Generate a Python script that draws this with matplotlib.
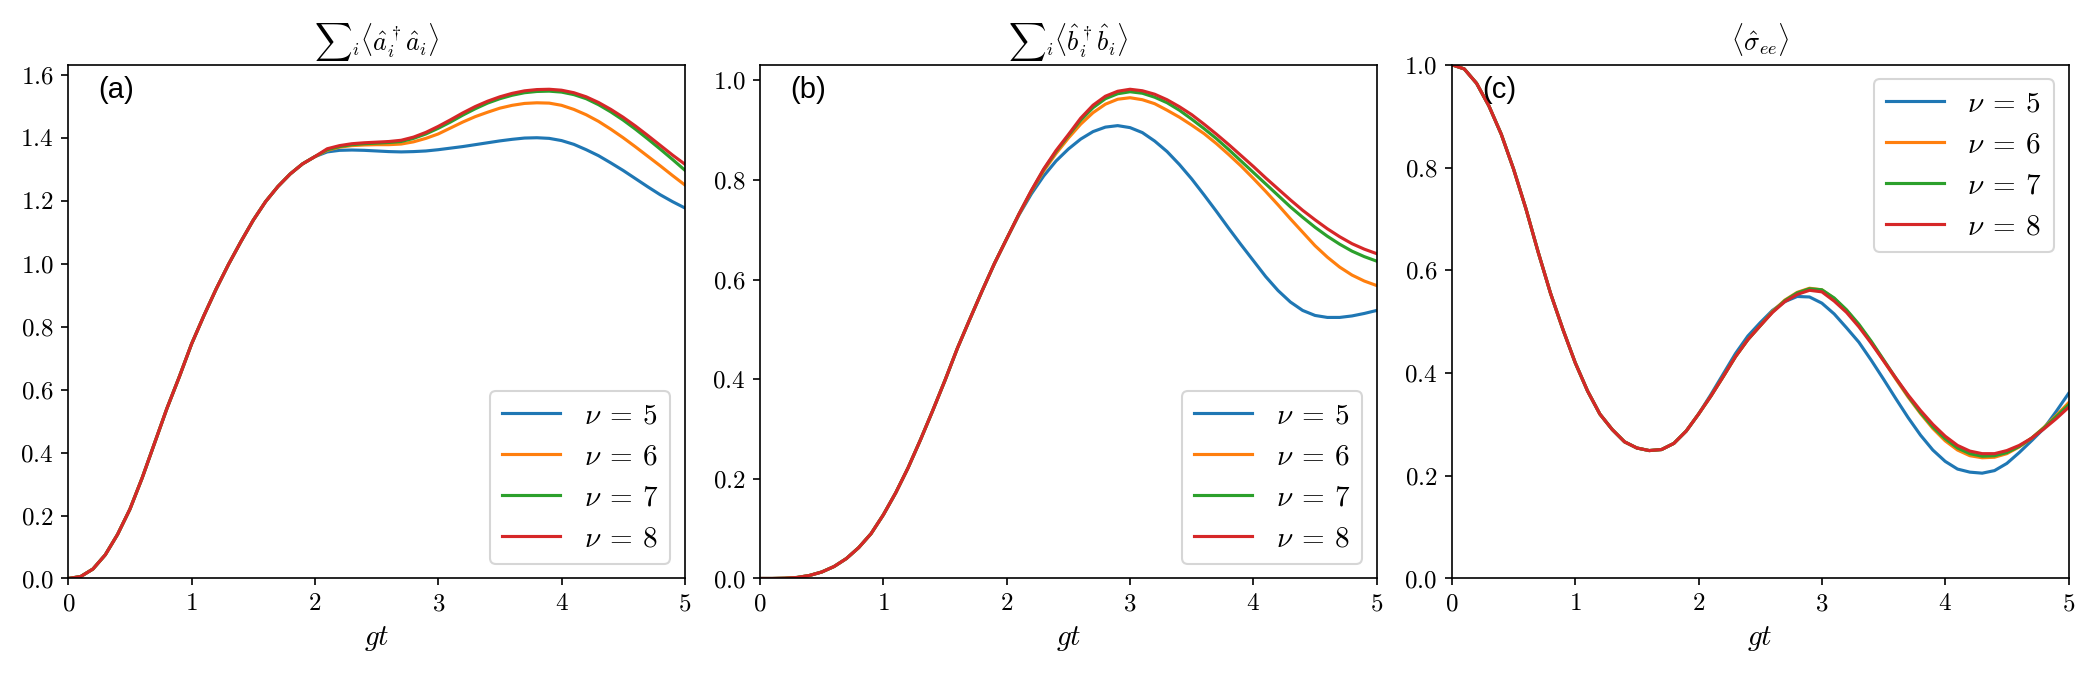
"""Photon / phonon number and excited-state population vs gt"""
import numpy as np
import matplotlib

matplotlib.use("Agg")
import matplotlib.pyplot as plt

plt.rcParams["font.family"] = "serif"
plt.rcParams["font.serif"] = ["cmr10"]
plt.rcParams["mathtext.fontset"] = "cm"
plt.rcParams["axes.formatter.use_mathtext"] = True

# time grid (gt)
gt = [
    0.0, 0.1, 0.2, 0.3, 0.4, 0.5, 0.6, 0.7, 0.8, 0.9,
    1.0, 1.1, 1.2, 1.3, 1.4, 1.5, 1.6, 1.7, 1.8, 1.9,
    2.0, 2.1, 2.2, 2.3, 2.4, 2.5, 2.6, 2.7, 2.8, 2.9,
    3.0, 3.1, 3.2, 3.3, 3.4, 3.5, 3.6, 3.7, 3.8, 3.9,
    4.0, 4.1, 4.2, 4.3, 4.4, 4.5, 4.6, 4.7, 4.8, 4.9,
    5.0,
]
nus = [5, 6, 7, 8]

# (a) sum_i <a_i^dag a_i>: common rise up to gt = 2, then one tail per nu
a_start = [0.0, 0.006, 0.03, 0.075, 0.14, 0.22, 0.32, 0.43, 0.54, 0.64,
           0.745, 0.835, 0.92, 0.998, 1.07, 1.138, 1.197, 1.245, 1.285, 1.317,
           1.340]
a_nu5 = [1.355, 1.360, 1.361, 1.360, 1.358, 1.356, 1.355, 1.356, 1.358, 1.362,
         1.367, 1.372, 1.378, 1.384, 1.390, 1.395, 1.399, 1.400, 1.398, 1.391,
         1.379, 1.362, 1.343, 1.320, 1.296, 1.270, 1.244, 1.219, 1.197, 1.177]
a_nu6 = [1.360, 1.370, 1.375, 1.377, 1.378, 1.378, 1.380, 1.387, 1.398, 1.412,
         1.431, 1.450, 1.467, 1.481, 1.494, 1.503, 1.509, 1.511, 1.510, 1.503,
         1.490, 1.473, 1.452, 1.427, 1.400, 1.371, 1.341, 1.311, 1.280, 1.250]
a_nu7 = [1.362, 1.372, 1.378, 1.381, 1.383, 1.385, 1.388, 1.398, 1.412, 1.430,
         1.450, 1.472, 1.492, 1.510, 1.524, 1.535, 1.543, 1.547, 1.548, 1.545,
         1.537, 1.524, 1.505, 1.482, 1.456, 1.427, 1.396, 1.364, 1.331, 1.297]
a_nu8 = [1.365, 1.375, 1.381, 1.384, 1.386, 1.388, 1.392, 1.402, 1.417, 1.436,
         1.457, 1.479, 1.499, 1.516, 1.530, 1.541, 1.549, 1.553, 1.554, 1.551,
         1.543, 1.530, 1.512, 1.490, 1.465, 1.437, 1.407, 1.376, 1.345, 1.316]

# (b) sum_i <b_i^dag b_i>
b_start = [0.0, 0.0, 0.0005, 0.002, 0.006, 0.013, 0.024, 0.040, 0.062, 0.090,
           0.128, 0.172, 0.222, 0.278, 0.337, 0.398, 0.462, 0.520, 0.577, 0.632,
           0.682]
b_nu5 = [0.730, 0.772, 0.808, 0.838, 0.862, 0.882, 0.897, 0.906, 0.909, 0.905,
         0.895, 0.878, 0.857, 0.831, 0.802, 0.770, 0.737, 0.703, 0.670, 0.638,
         0.606, 0.578, 0.555, 0.538, 0.528, 0.524, 0.524, 0.527, 0.532, 0.538]
b_nu6 = [0.731, 0.777, 0.818, 0.853, 0.884, 0.912, 0.935, 0.952, 0.962, 0.965,
         0.961, 0.953, 0.940, 0.926, 0.910, 0.893, 0.873, 0.851, 0.828, 0.803,
         0.777, 0.750, 0.722, 0.695, 0.668, 0.645, 0.625, 0.609, 0.597, 0.588]
b_nu7 = [0.732, 0.778, 0.821, 0.857, 0.889, 0.920, 0.945, 0.963, 0.973, 0.977,
         0.974, 0.966, 0.955, 0.940, 0.922, 0.903, 0.883, 0.861, 0.838, 0.815,
         0.792, 0.769, 0.746, 0.725, 0.705, 0.687, 0.671, 0.657, 0.646, 0.637]
b_nu8 = [0.732, 0.779, 0.822, 0.859, 0.891, 0.924, 0.950, 0.968, 0.978, 0.982,
         0.979, 0.972, 0.961, 0.947, 0.931, 0.912, 0.892, 0.871, 0.849, 0.827,
         0.804, 0.782, 0.760, 0.739, 0.720, 0.702, 0.686, 0.672, 0.661, 0.652]

# (c) <sigma_ee>
c_start = [1.000, 0.992, 0.964, 0.920, 0.865, 0.797, 0.720, 0.635, 0.555, 0.485,
           0.420, 0.365, 0.320, 0.290, 0.266, 0.254, 0.249, 0.251, 0.263, 0.287,
           0.320]
c_nu5 = [0.358, 0.398, 0.438, 0.472, 0.498, 0.522, 0.539, 0.549, 0.548, 0.536,
         0.515, 0.488, 0.460, 0.425, 0.388, 0.350, 0.313, 0.279, 0.250, 0.228,
         0.213, 0.207, 0.205, 0.210, 0.224, 0.245, 0.268, 0.292, 0.325, 0.360]
c_nu6 = [0.355, 0.393, 0.432, 0.465, 0.492, 0.520, 0.542, 0.557, 0.565, 0.562,
         0.545, 0.522, 0.493, 0.460, 0.424, 0.388, 0.353, 0.321, 0.292, 0.268,
         0.250, 0.239, 0.235, 0.236, 0.243, 0.256, 0.273, 0.294, 0.317, 0.342]
c_nu7 = [0.355, 0.393, 0.432, 0.465, 0.492, 0.519, 0.541, 0.556, 0.564, 0.562,
         0.546, 0.523, 0.495, 0.462, 0.426, 0.390, 0.355, 0.323, 0.295, 0.272,
         0.254, 0.243, 0.238, 0.239, 0.245, 0.257, 0.273, 0.293, 0.315, 0.338]
c_nu8 = [0.355, 0.393, 0.432, 0.465, 0.492, 0.518, 0.539, 0.553, 0.561, 0.558,
         0.540, 0.518, 0.490, 0.458, 0.424, 0.390, 0.357, 0.327, 0.300, 0.277,
         0.259, 0.248, 0.243, 0.243, 0.249, 0.259, 0.273, 0.291, 0.311, 0.333]

titles = [
    r"${\sum}_i\langle\hat{a}_i^\dagger\hat{a}_i\rangle$",
    r"${\sum}_i\langle\hat{b}_i^\dagger\hat{b}_i\rangle$",
    r"$\langle\hat{\sigma}_{ee}\rangle$",
]
panel_labels = ["(a)", "(b)", "(c)"]


def panel(ax, start, tails, title, label, legend_loc):
    """Draw one panel: the shared start joined with each nu tail"""
    for nu, tail in zip(nus, tails):
        ax.plot(gt, start + tail, lw=1.5, label=rf"$\nu\:=\:{nu}$")
    ax.set_xlim(0, 5)
    ax.set_title(title, fontsize=12.5, pad=7)
    ax.set_xlabel(r"$gt$", fontsize=14)
    ax.tick_params(labelsize=12)
    ax.text(0.049, 0.95, label, transform=ax.transAxes, fontsize=14,
            family="Liberation Sans", va="center", ha="left")
    ax.legend(loc=legend_loc, fontsize=14)


fig, axes = plt.subplots(1, 3, figsize=(14, 4.5), dpi=150)
fig.subplots_adjust(left=0.0325, right=0.985, bottom=0.143, top=0.904, wspace=0.122)

panel(axes[0], a_start, [a_nu5, a_nu6, a_nu7, a_nu8], titles[0], panel_labels[0], "lower right")
axes[0].set_ylim(bottom=0)
panel(axes[1], b_start, [b_nu5, b_nu6, b_nu7, b_nu8], titles[1], panel_labels[1], "lower right")
axes[1].set_ylim(bottom=0)
panel(axes[2], c_start, [c_nu5, c_nu6, c_nu7, c_nu8], titles[2], panel_labels[2], "upper right")
axes[2].set_ylim(0, 1)

fig.savefig("out.png", dpi=150)
